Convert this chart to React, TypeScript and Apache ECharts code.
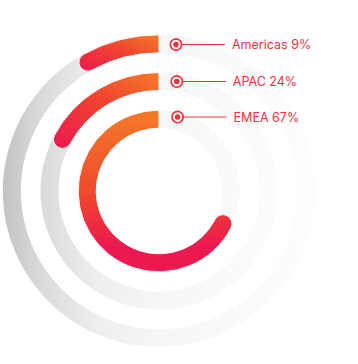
import React, { useEffect, useRef } from "react";
import * as echarts from "echarts";

// outer → inner
const categories = ["Americas", "APAC", "EMEA"];
const labelValues = [9, 24, 67]; // percentages printed in the labels
const arcValues = [9, 18.5, 69.5]; // arc lengths (% of full circle)
const angleMax = 100;

const PINK = "#ec1850";
const ORANGE = "#f57a29";
const RED = "#f0442f";
const LABEL_RED = "#f2313d";

export default function App() {
  const ref = useRef<HTMLDivElement>(null);
  useEffect(() => {
    if (!ref.current) return;
    const chart = echarts.init(ref.current, undefined, { renderer: "svg" });
    const cx = 159;
    const cy = 191;
    const radCats = [...categories].reverse();
    const radVals = [...arcValues].reverse();

    const gradFor = (i: number) =>
      i === 0
        ? new echarts.graphic.LinearGradient(0, 0, 0, 1, [
            { offset: 0, color: ORANGE },
            { offset: 0.5, color: "#f04a2c" },
            { offset: 0.85, color: PINK },
            { offset: 1, color: PINK },
          ])
        : new echarts.graphic.LinearGradient(1, 0, 0, 1, [
            { offset: 0, color: ORANGE },
            { offset: 0.45, color: RED },
            { offset: 1, color: PINK },
          ]);

    const bg = new echarts.graphic.LinearGradient(
      4,
      0,
      314,
      0,
      [
        { offset: 0, color: "#c3c3c3" },
        { offset: 0.12, color: "#dadada" },
        { offset: 0.3, color: "#eeeeee" },
        { offset: 0.5, color: "#f6f6f6" },
        { offset: 0.75, color: "#fafafa" },
        { offset: 1, color: "#fdfdfd" },
      ],
      true
    );

    const labelYs = [44.5, 81.5, 117];
    const graphics: any[] = [];
    categories.forEach((c, i) => {
      const y = labelYs[i];
      const dx = i * 0.8;
      graphics.push(
        {
          type: "circle",
          shape: { cx: 176 + dx, cy: y, r: 5.6 },
          style: { fill: "#fff", stroke: LABEL_RED, lineWidth: 1.6 },
          z: 10,
        },
        {
          type: "circle",
          shape: { cx: 176 + dx, cy: y, r: 2.8 },
          style: { fill: LABEL_RED },
          z: 10,
        },
        {
          type: "line",
          shape: { x1: 181.5 + dx, y1: y, x2: 225 + dx, y2: y },
          style: { stroke: LABEL_RED, lineWidth: 1.2 },
          z: 10,
        },
        {
          type: "text",
          x: 232 + dx,
          y: y,
          style: {
            text: `${c} ${labelValues[i]}%`,
            fill: LABEL_RED,
            font: "12.5px Inter",
            verticalAlign: "middle",
          },
          z: 10,
        }
      );
    });

    chart.setOption({
      animation: false,
      polar: { center: [cx, cy], radius: [53, 166] },
      angleAxis: {
        type: "value",
        min: 0,
        max: angleMax,
        startAngle: 90,
        clockwise: false,
        show: false,
      },
      radiusAxis: {
        type: "category",
        data: radCats,
        show: false,
      },
      series: [
        {
          type: "bar",
          coordinateSystem: "polar",
          barWidth: 18,
          showBackground: true,
          backgroundStyle: { color: bg },
          data: radVals.map((v, i) => ({
            value: v,
            itemStyle: {
              color: gradFor(i),
              borderColor: "#fff",
              borderWidth: 1,
              borderRadius: [0, 9, 0, 9],
            },
          })),
        },
      ],
      graphic: graphics,
    });
    return () => chart.dispose();
  }, []);
  return (
    <div
      ref={ref}
      style={{ position: "absolute", left: 0, top: 0, width: 358, height: 364 }}
    />
  );
}
